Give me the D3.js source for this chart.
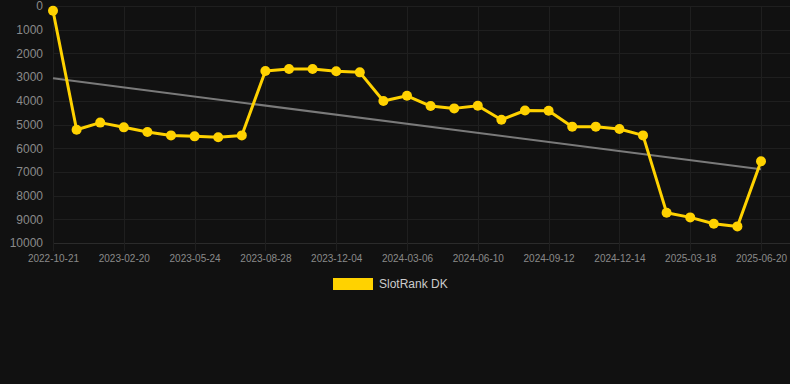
<!DOCTYPE html>
<html>
<head>
<meta charset="utf-8">
<script src="https://cdn.jsdelivr.net/npm/d3@7"></script>
<style>
    body { margin: 0; background: #111111; }
    .grafico text { font-family: Arial, "Liberation Sans", sans-serif; }
</style>
</head>
<body>
<div class="grafico"></div>
<script>
const width = 790;
const height = 384;

// dates on the x axis (only every third one gets a label)
const fechas = [
    "2022-10-21", "2022-11-30", "2023-01-10", "2023-02-20", "2023-03-23", "2023-04-23",
    "2023-05-24", "2023-06-25", "2023-07-27", "2023-08-28", "2023-09-30", "2023-11-01",
    "2023-12-04", "2024-01-04", "2024-02-04", "2024-03-06", "2024-04-07", "2024-05-09",
    "2024-06-10", "2024-07-11", "2024-08-11", "2024-09-12", "2024-10-13", "2024-11-13",
    "2024-12-14", "2025-01-14", "2025-02-15", "2025-03-18", "2025-04-18", "2025-05-19",
    "2025-06-20"
];

// rank values
const slotRankDK = [
    200, 5220, 4920, 5120, 5320, 5460, 5500, 5540, 5460, 2740,
    2660, 2660, 2750, 2800, 4010, 3790, 4220, 4320, 4210, 4800,
    4410, 4420, 5090, 5090, 5190, 5460, 8720, 8920, 9190, 9300,
    6550
];

const yTicks = [0, 1000, 2000, 3000, 4000, 5000, 6000, 7000, 8000, 9000, 10000];
const serieNombre = "SlotRank DK";

const margin = { top: 6, right: 29, bottom: 141, left: 53 };

const svg = d3.select(".grafico")
    .append("svg")
    .attr("width", width)
    .attr("height", height);

svg.append("rect")
    .attr("width", width)
    .attr("height", height)
    .attr("fill", "#111111");

const x = d3.scalePoint()
    .domain(fechas)
    .range([margin.left, width - margin.right]);

const y = d3.scaleLinear()
    .domain([0, 10000])
    .range([margin.top, height - margin.bottom]);

// horizontal grid
svg.append("g")
    .selectAll("line")
    .data(yTicks)
    .enter().append("line")
    .attr("x1", margin.left)
    .attr("x2", width)
    .attr("y1", d => Math.round(y(d)) + 0.5)
    .attr("y2", d => Math.round(y(d)) + 0.5)
    .attr("stroke", d => d === 10000 ? "#2b2b2b" : "#1f1f1f")
    .attr("stroke-width", 1);

// vertical grid, one every 3 points
const xTicks = fechas.filter((d, i) => i % 3 === 0);

svg.append("g")
    .selectAll("line")
    .data(xTicks)
    .enter().append("line")
    .attr("x1", d => Math.round(x(d)) + 0.5)
    .attr("x2", d => Math.round(x(d)) + 0.5)
    .attr("y1", margin.top)
    .attr("y2", y(10000) + 8)
    .attr("stroke", "#1f1f1f")
    .attr("stroke-width", 1);

// y axis labels
const yAxis = d3.axisLeft(y)
    .tickValues(yTicks)
    .tickFormat(d3.format("d"))
    .tickSize(0)
    .tickPadding(10);

const gy = svg.append("g")
    .attr("transform", `translate(${margin.left},0)`)
    .call(yAxis);
gy.select(".domain").remove();
gy.selectAll("text")
    .attr("fill", "#8a8a8a")
    .style("font-size", "12px");

// x axis labels
const xAxis = d3.axisBottom(x)
    .tickValues(xTicks)
    .tickSize(0)
    .tickPadding(12);

const gx = svg.append("g")
    .attr("transform", `translate(0,${y(10000)})`)
    .call(xAxis);
gx.select(".domain").remove();
gx.selectAll("text")
    .attr("fill", "#8a8a8a")
    .style("font-size", "10px");

// trend line (least squares over the point index)
const n = slotRankDK.length;
const mx = d3.mean(slotRankDK, (d, i) => i);
const my = d3.mean(slotRankDK);
let sxy = 0, sxx = 0;
slotRankDK.forEach((d, i) => {
    sxy += (i - mx) * (d - my);
    sxx += (i - mx) * (i - mx);
});
const pendiente = sxy / sxx;
const corte = my - pendiente * mx;

svg.append("line")
    .attr("x1", x(fechas[0]))
    .attr("y1", y(corte))
    .attr("x2", x(fechas[n - 1]))
    .attr("y2", y(corte + pendiente * (n - 1)))
    .attr("stroke", "#7a7a7a")
    .attr("stroke-width", 2);

// main series
const color = "#ffd200";

const line = d3.line()
    .x((d, i) => x(fechas[i]))
    .y(d => y(d));

svg.append("path")
    .datum(slotRankDK)
    .attr("fill", "none")
    .attr("stroke", color)
    .attr("stroke-width", 3)
    .attr("stroke-linejoin", "round")
    .attr("d", line);

svg.append("g")
    .selectAll("circle")
    .data(slotRankDK)
    .enter().append("circle")
    .attr("cx", (d, i) => x(fechas[i]))
    .attr("cy", d => y(d))
    .attr("r", 5)
    .attr("fill", color);

// legend
const legend = svg.append("g")
    .attr("transform", "translate(333,278)");

legend.append("rect")
    .attr("width", 40)
    .attr("height", 12)
    .attr("fill", color);

legend.append("text")
    .attr("x", 46)
    .attr("y", 10)
    .attr("fill", "#cccccc")
    .style("font-size", "12px")
    .text(serieNombre);
</script>
</body>
</html>
